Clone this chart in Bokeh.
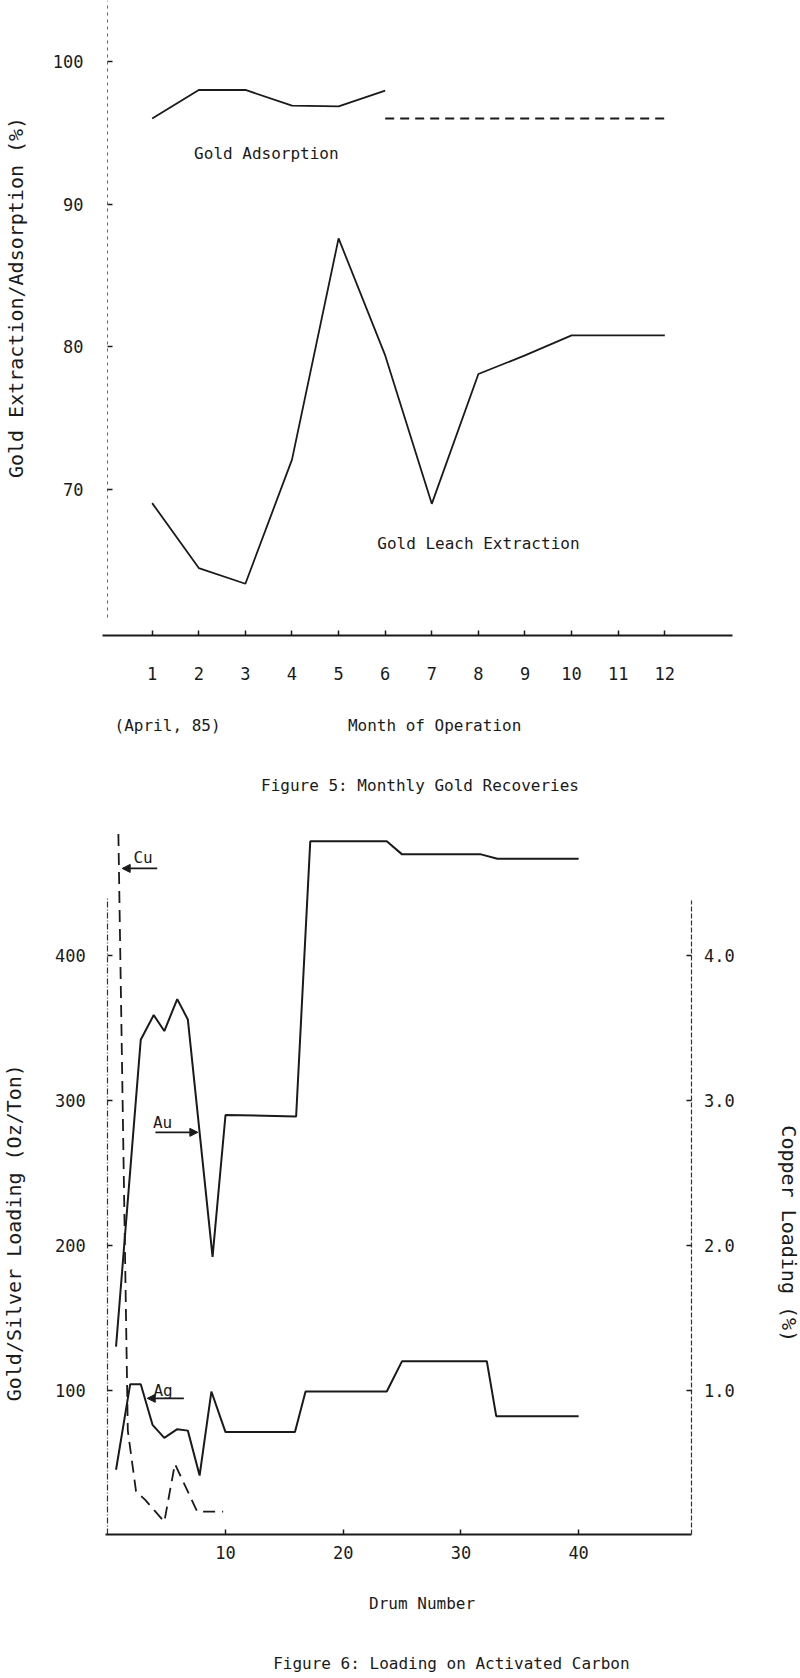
import math
from bokeh.plotting import figure
from bokeh.models import (Range1d, LinearAxis, FixedTicker, Label, Arrow,
                          NormalHead, PrintfTickFormatter)
from bokeh.layouts import column
from bokeh.embed import file_html
from bokeh.resources import INLINE

# ---------------- Figure 5 data ----------------
months = [1, 2, 3, 4, 5, 6, 7, 8, 9, 10, 11, 12]
month_labels = ["1", "2", "3", "4", "5", "6", "7", "8", "9", "10", "11", "12"]
adsorption_months = [1, 2, 3, 4, 5, 6]
adsorption = [96.0, 98.0, 98.0, 96.9, 96.85, 97.95]
adsorption_est_months = [6, 7, 8, 9, 10, 11, 12]
adsorption_est = [96.0, 96.0, 96.0, 96.0, 96.0, 96.0, 96.0]
leach = [69.05, 64.5, 63.4, 72.1, 87.6, 79.4, 69.0, 78.1, 79.4, 80.8, 80.8, 80.8]
fig5_yticks = [70, 80, 90, 100]

# ---------------- Figure 6 data ----------------
au_drum = [0.7, 2.8, 3.9, 4.8, 5.9, 6.8, 8.9, 10, 16, 17.2, 23.7, 25, 31.7, 33.1, 40]
au_load = [130, 342, 359, 348, 370, 356, 192, 290, 289, 479, 479, 470, 470, 467, 467]
ag_drum = [0.7, 1.9, 2.8, 3.8, 4.8, 5.9, 6.8, 7.8, 8.8, 10, 15.9, 16.8, 23.7, 25, 32.2, 33.0, 40]
ag_load = [45, 104, 104, 76, 67, 73, 72, 41, 99, 71, 71, 99, 99, 120, 120, 82, 82]
cu_drum = [0.9, 1.7, 2.4, 3.2, 4.8, 5.7, 7.6, 9.8]
cu_pct = [4.84, 0.72, 0.30, 0.24, 0.09, 0.49, 0.16, 0.16]
fig6_xticks = [10, 20, 30, 40]
fig6_yticks = [100, 200, 300, 400]
fig6_cu_ticks = [1.0, 2.0, 3.0, 4.0]

FONT = "DejaVu Sans Mono"
INK = "#1a1a1a"


def style_axis(ax, tick_size="17px"):
    ax.major_label_text_font = FONT
    ax.major_label_text_font_size = tick_size
    ax.major_label_text_color = INK
    ax.minor_tick_line_color = None
    ax.major_tick_in = 5
    ax.major_tick_out = 0
    ax.major_tick_line_color = INK
    ax.major_tick_line_width = 1.5


def text(p, x, y, s, size="16px", angle=0.0, **kw):
    p.add_layout(Label(x=x, y=y, text=s, text_font=FONT, text_font_size=size,
                       text_color=INK, text_align="center", text_baseline="middle",
                       angle=angle, **kw))


def bare_figure(w, h, xr, yr):
    p = figure(width=w, height=h, output_backend="svg", toolbar_location=None,
               x_range=xr, y_range=yr, x_axis_type=None, y_axis_type=None,
               min_border_left=0, min_border_right=0, min_border_top=0,
               min_border_bottom=0)
    p.outline_line_color = None
    p.grid.visible = False
    p.background_fill_color = "white"
    return p


# ================= Figure 5 =================
p1 = bare_figure(800, 810, Range1d(-2.255, 14.912), Range1d(47.51, 104.27))

xa = LinearAxis(fixed_location=59.78, bounds=(-0.066, 13.45),
                ticker=FixedTicker(ticks=months))
style_axis(xa)
xa.major_label_overrides = {m: lab for m, lab in zip(months, month_labels)}
xa.axis_line_width = 2.2
xa.axis_line_color = INK
xa.major_label_standoff = 32
p1.add_layout(xa, "below")

ya = LinearAxis(fixed_location=0.04, bounds=(61, 104.27),
                ticker=FixedTicker(ticks=fig5_yticks))
style_axis(ya)
ya.axis_line_color = "#666666"
ya.axis_line_dash = "3 4"
ya.axis_line_width = 1
ya.major_label_standoff = 24
p1.add_layout(ya, "left")

p1.line(adsorption_months, adsorption, line_color=INK, line_width=1.8)
p1.line(adsorption_est_months, adsorption_est, line_color=INK, line_width=2,
        line_dash="9 6")
p1.line(months, leach, line_color=INK, line_width=1.8)

text(p1, -1.912, 83.46, "Gold Extraction/Adsorption (%)", size="20px",
     angle=math.pi / 2)
text(p1, 3.45, 93.55, "Gold Adsorption")
text(p1, 8.0, 66.2, "Gold Leach Extraction")
text(p1, 1.33, 53.47, "(April, 85)")
text(p1, 7.06, 53.47, "Month of Operation")
text(p1, 6.85, 49.27, "Figure 5:  Monthly Gold Recoveries")

# ================= Figure 6 =================
p2 = bare_figure(800, 868, Range1d(-9.116, 58.85), Range1d(-99.2, 500.3))
p2.extra_y_ranges = {"cu": Range1d(-0.992, 5.003)}

xb = LinearAxis(fixed_location=0, bounds=(-0.17, 49.63),
                ticker=FixedTicker(ticks=fig6_xticks))
style_axis(xb)
xb.axis_line_width = 2.2
xb.axis_line_color = INK
xb.major_label_standoff = 11
p2.add_layout(xb, "below")

yb = LinearAxis(fixed_location=0, bounds=(0, 440),
                ticker=FixedTicker(ticks=fig6_yticks))
style_axis(yb)
yb.axis_line_color = "#333333"
yb.axis_line_dash = "6 2 1 2"
yb.axis_line_width = 1.2
yb.major_label_standoff = 22
p2.add_layout(yb, "left")

yr = LinearAxis(y_range_name="cu", fixed_location=49.63, bounds=(0, 4.38),
                ticker=FixedTicker(ticks=fig6_cu_ticks),
                formatter=PrintfTickFormatter(format="%.1f"))
style_axis(yr)
yr.axis_line_color = "#333333"
yr.axis_line_dash = "5 2"
yr.axis_line_width = 1.2
yr.major_label_standoff = 12
p2.add_layout(yr, "right")

p2.line(au_drum, au_load, line_color=INK, line_width=2)
p2.line(ag_drum, ag_load, line_color=INK, line_width=2)
p2.line(cu_drum, cu_pct, y_range_name="cu", line_color=INK, line_width=1.8,
        line_dash="12 7")

text(p2, -7.93, 208.7, "Gold/Silver Loading (Oz/Ton)", size="20px",
     angle=math.pi / 2)
text(p2, 57.9, 208.0, "Copper Loading (%)", size="20px", angle=-math.pi / 2)

# series annotations with arrows
text(p2, 3.0, 467.9, "Cu")
p2.add_layout(Arrow(end=NormalHead(size=8, fill_color=INK, line_color=INK),
                    x_start=4.2, y_start=460.3, x_end=1.22, y_end=460.3,
                    line_color=INK, line_width=1.6))
text(p2, 4.65, 284.9, "Au")
p2.add_layout(Arrow(end=NormalHead(size=8, fill_color=INK, line_color=INK),
                    x_start=4.05, y_start=278.0, x_end=7.65, y_end=278.0,
                    line_color=INK, line_width=1.6))
text(p2, 4.7, 99.6, "Ag")
p2.add_layout(Arrow(end=NormalHead(size=8, fill_color=INK, line_color=INK),
                    x_start=6.46, y_start=94.3, x_end=3.35, y_end=94.3,
                    line_color=INK, line_width=1.6))

text(p2, 26.7, -47.6, "Drum Number")
text(p2, 29.6, -88.9, "Figure 6:  Loading on Activated Carbon")

layout = column(p1, p2, spacing=0)
open("out.html", "w").write(file_html(layout, INLINE))
